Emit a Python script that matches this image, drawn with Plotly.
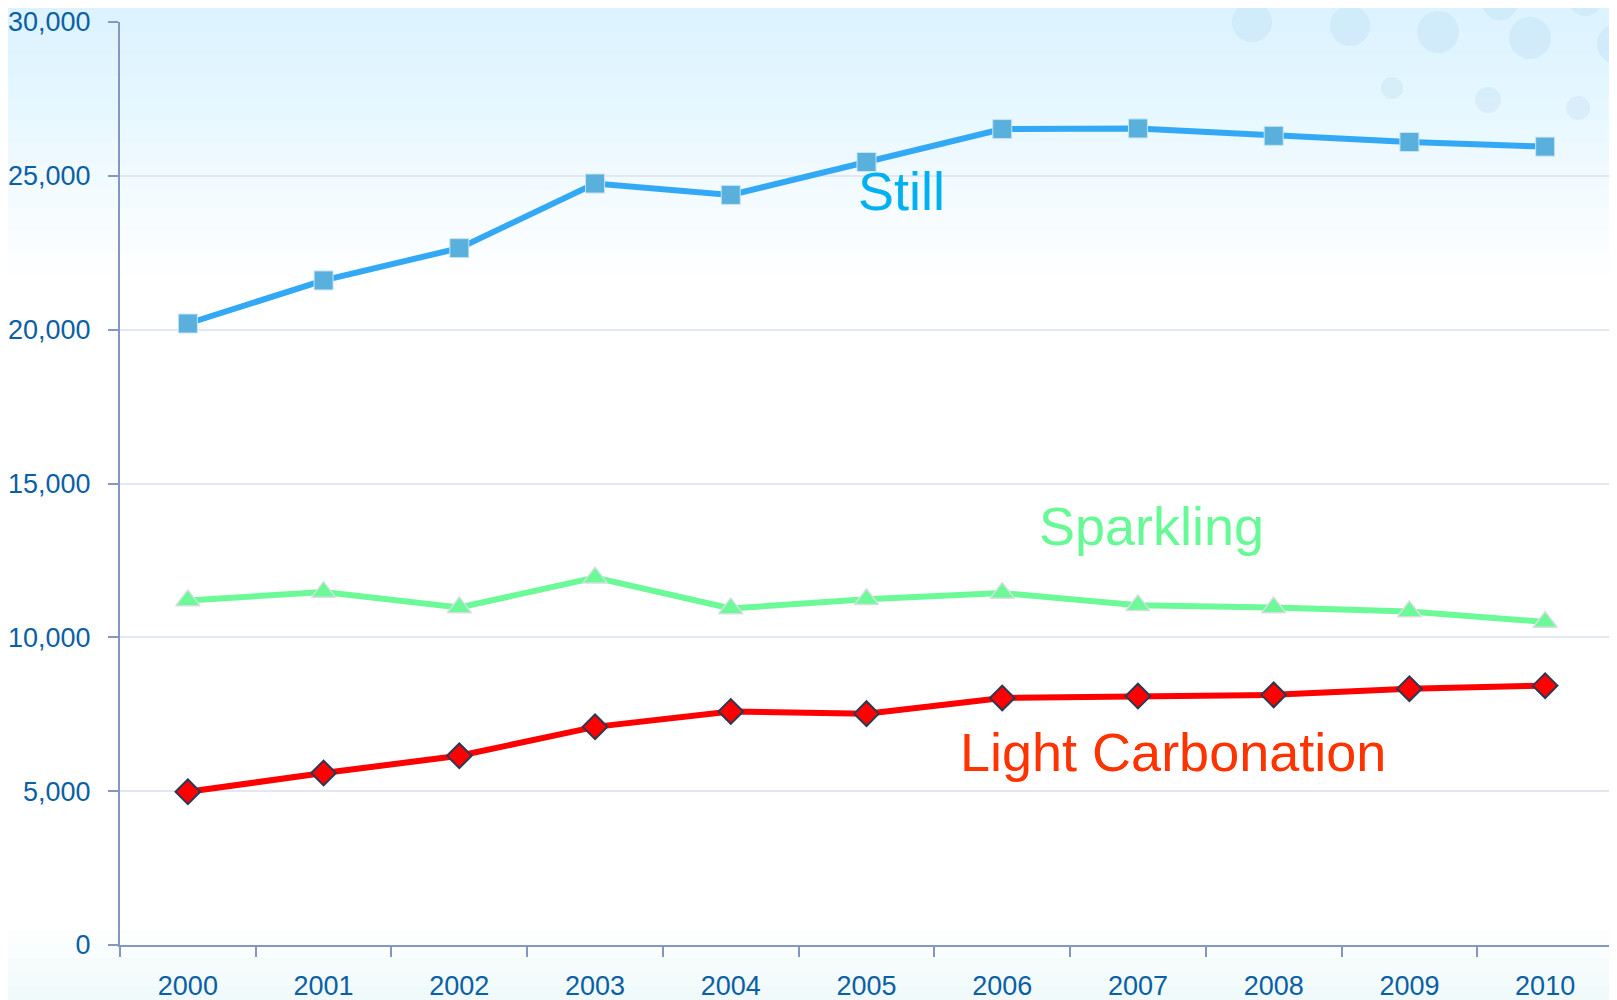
import plotly.graph_objects as go

# Bottled water volumes by segment, 2000-2010
years = ['2000', '2001', '2002', '2003', '2004', '2005',
         '2006', '2007', '2008', '2009', '2010']
still = [20200, 21600, 22650, 24750, 24380, 25450,
         26520, 26540, 26300, 26100, 25950]
sparkling = [11200, 11470, 10970, 11940, 10940, 11240,
             11440, 11040, 10970, 10840, 10500]
light_carbonation = [4980, 5590, 6150, 7090, 7590, 7520,
                     8030, 8090, 8130, 8330, 8430]
y_ticks = [0, 5000, 10000, 15000, 20000, 25000, 30000]

FONT = 'Liberation Sans, Arial, sans-serif'
TICK_BLUE = '#0b5fa5'
AXIS_COLOR = '#8597bf'

# page body has an 8px margin, so the figure is sized to fill what is left
W, H = 1609, 992
ML, MR, MT, MB = 112, 4, 14, 55
PW, PH = W - ML - MR, H - MT - MB

fig = go.Figure()

fig.add_trace(go.Scatter(
    x=years, y=still, name='Still', mode='lines+markers',
    line=dict(color='#33a8f5', width=6),
    marker=dict(symbol='square', size=19, color='#5ab0dc',
                line=dict(color='#c8e4f4', width=1)),
))
fig.add_trace(go.Scatter(
    x=years, y=sparkling, name='Sparkling', mode='lines+markers',
    line=dict(color='#6cfa98', width=6),
    marker=dict(symbol='triangle-up', size=21, color='#6cfa98',
                line=dict(color='#d8dde2', width=1.5)),
))
fig.add_trace(go.Scatter(
    x=years, y=light_carbonation, name='Light Carbonation', mode='lines+markers',
    line=dict(color='#ff0000', width=6),
    marker=dict(symbol='diamond', size=19, color='#ff0000',
                line=dict(color='#2b3a52', width=2)),
))


def px_to_paper(px, py):
    # page pixel -> paper coords of the plot area
    fx, fy = px - 8, py - 8
    return (fx - ML) / PW, (MT + PH - fy) / PH


shapes = []
# soft sky-blue wash fading down from the top
for k in range(12):
    _, y0 = px_to_paper(0, 10 + 22 * (k + 1))
    shapes.append(dict(
        type='rect', xref='paper', yref='paper', layer='below',
        x0=-0.2, x1=1.1, y0=y0, y1=1.2,
        fillcolor='rgba(175,222,242,0.036)', line=dict(width=0),
    ))
# faint wash along the bottom
for k in range(5):
    _, y1 = px_to_paper(0, 1000 - 14 * (k + 1))
    shapes.append(dict(
        type='rect', xref='paper', yref='paper', layer='below',
        x0=-0.2, x1=1.1, y0=-0.2, y1=y1,
        fillcolor='rgba(205,232,245,0.06)', line=dict(width=0),
    ))
# faint water droplets in the top right corner
drops = [(1252, 22, 20), (1350, 26, 20), (1438, 32, 21), (1530, 38, 21),
         (1617, 44, 20), (1392, 88, 11), (1488, 100, 13), (1578, 108, 12),
         (1500, 2, 18), (1585, 0, 16)]
for cx, cy, r in drops:
    x0, y0 = px_to_paper(cx - r, cy + r)
    x1, y1 = px_to_paper(cx + r, cy - r)
    shapes.append(dict(
        type='circle', xref='paper', yref='paper', layer='below',
        x0=x0, x1=x1, y0=y0, y1=y1,
        fillcolor='rgba(140,195,225,0.16)', line=dict(width=0),
    ))
fig.update_layout(shapes=shapes)

fig.add_annotation(x=5.26, y=24520, text='Still', showarrow=False,
                   font=dict(family=FONT, size=54, color='#00b0f0'))
fig.add_annotation(x=7.10, y=13620, text='Sparkling', showarrow=False,
                   font=dict(family=FONT, size=54, color='#66f996'))
fig.add_annotation(x=7.26, y=6280, text='Light Carbonation', showarrow=False,
                   font=dict(family=FONT, size=54, color='#ff3300'))

fig.update_layout(
    width=W, height=H,
    margin=dict(l=ML, r=MR, t=MT, b=MB),
    showlegend=False,
    paper_bgcolor='white',
    plot_bgcolor='rgba(0,0,0,0)',
    font=dict(family=FONT, size=27, color=TICK_BLUE),
)

fig.update_xaxes(
    type='category', range=[-0.5, 10.5], tickson='boundaries',
    ticks='outside', ticklen=10, tickwidth=2, tickcolor=AXIS_COLOR,
    showline=True, linecolor=AXIS_COLOR, linewidth=2,
    showgrid=False, ticklabelstandoff=16, automargin=False,
    ticklabeloverflow='allow',
    tickfont=dict(family=FONT, size=27, color=TICK_BLUE),
)
fig.update_yaxes(
    range=[0, 30000], tickvals=y_ticks, tickformat=',d',
    ticks='outside', ticklen=10, tickwidth=2, tickcolor=AXIS_COLOR,
    showline=True, linecolor=AXIS_COLOR, linewidth=2,
    showgrid=True, gridcolor='#e2e7f0', gridwidth=1.5,
    zeroline=False, ticklabelstandoff=12, automargin=False,
    ticklabeloverflow='allow',
    tickfont=dict(family=FONT, size=27, color=TICK_BLUE),
)

fig.write_html('out.html')
